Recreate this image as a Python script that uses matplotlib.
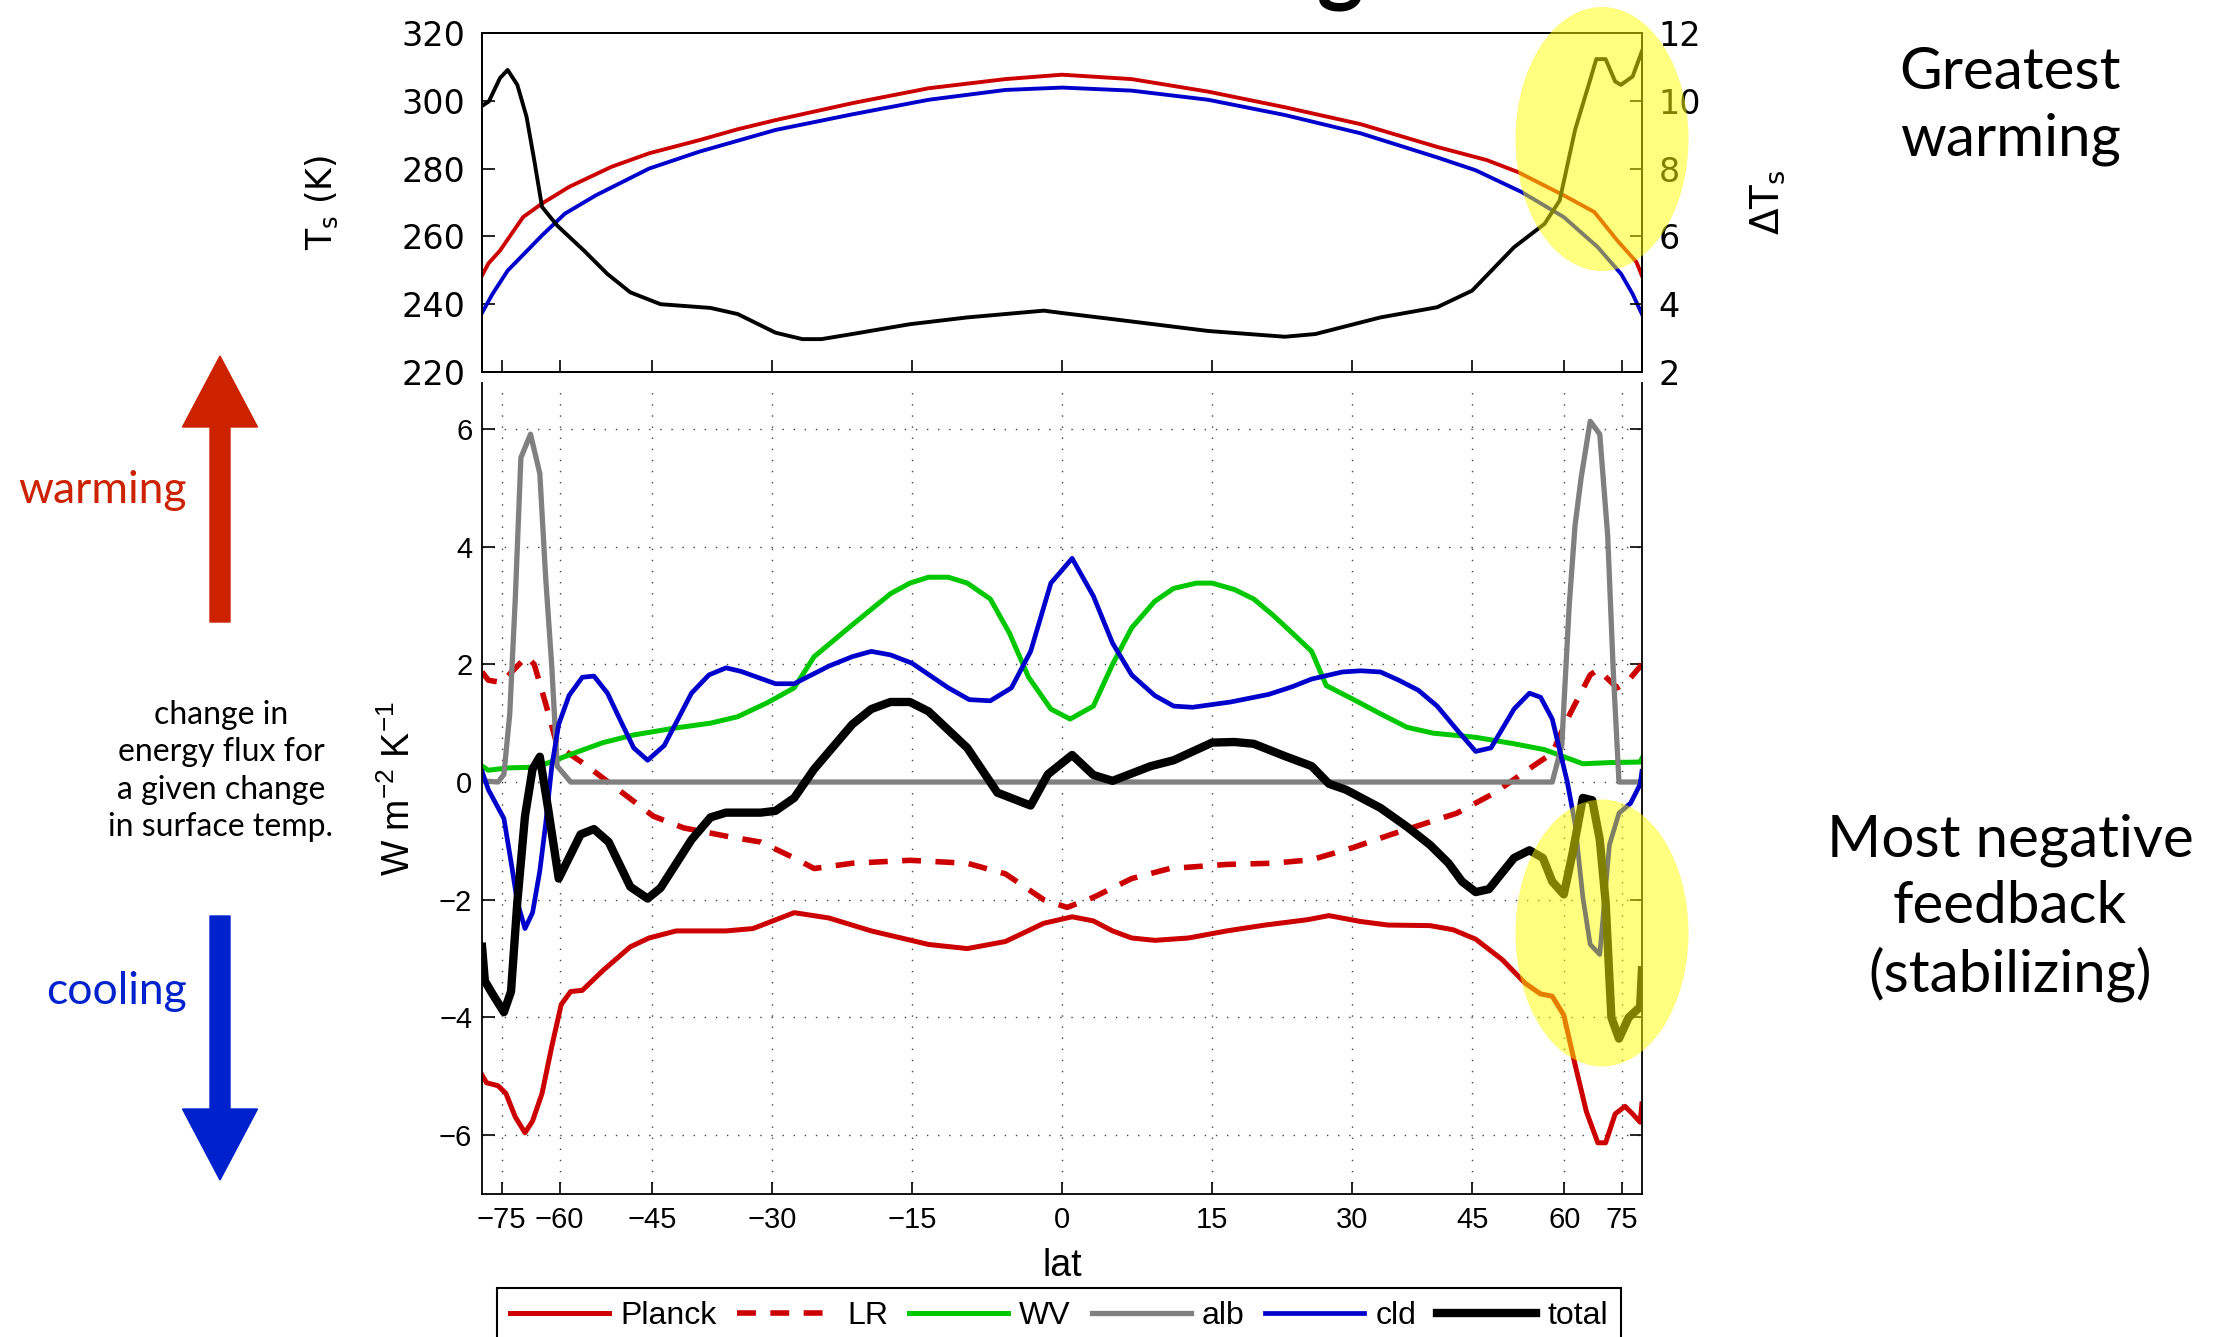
import numpy as np
import matplotlib
matplotlib.use("Agg")
import matplotlib.pyplot as plt
from matplotlib.patches import Ellipse, FancyArrow

# ─────────────────────────────────────────────
# DATA
# ─────────────────────────────────────────────
LAT_TICKS = [-75, -60, -45, -30, -15, 0, 15, 30, 45, 60, 75]

# top panel: surface temperature (left axis, K) and warming (right axis)
ts_red_lat = [-89, -81.5, -75.7, -68.3, -63.7, -58.2, -51.0, -45.4, -38.7, -34.0, -29.6,
              -21.2, -13.3, -5.6, 0, 6.9, 14.6, 22.6, 31.0, 40.3, 47.1, 51.8, 59.9,
              66.6, 73.2, 82, 89]
ts_red = [248.5, 252.0, 255.8, 265.7, 269.7, 274.6, 280.5, 284.5, 288.4, 291.6, 294.3,
          299.3, 303.7, 306.4, 307.7, 306.4, 302.7, 298.1, 293.1, 286.4, 282.5, 279.0, 272.1,
          267.2, 258.8, 252.5, 248.4]

ts_blue_lat = [-89, -79.1, -72.9, -63.7, -59.0, -53.5, -45.4, -38.7, -29.6, -21.2, -13.3,
               -5.6, 0, 6.9, 14.6, 22.6, 31.0, 40.3, 45.5, 52.4, 59.9, 67.5, 74.6, 79.7, 89]
ts_blue = [237.5, 243.0, 249.9, 260.3, 266.7, 272.1, 280.0, 285.0, 291.4, 296.0, 300.3,
           303.2, 303.9, 303.0, 300.3, 295.8, 290.4, 283.3, 279.5, 273.1, 265.7, 256.8, 248.9,
           243.0, 237.1]

dts_lat = [-89, -81.2, -75.7, -72.9, -69.9, -67.4, -65.5, -63.7, -60.5, -55.5, -51.6, -48.1,
           -43.8, -37.3, -34.0, -29.6, -26.6, -24.5, -21.2, -15.2, -9.4, -5.6, -1.8, 0, 5.0,
           14.6, 22.6, 25.9, 33.3, 40.3, 45.0, 51.2, 56.3, 59.1, 62.2, 65.6, 67.1, 69.6, 72.5,
           74.5, 79.7, 89]
dts = [9.85, 9.98, 10.67, 10.91, 10.47, 9.53, 8.25, 6.87, 6.32, 5.58, 4.89, 4.35,
       4.00, 3.89, 3.71, 3.16, 2.97, 2.97, 3.12, 3.41, 3.61, 3.71, 3.81, 3.74, 3.56,
       3.21, 3.04, 3.12, 3.61, 3.91, 4.40, 5.68, 6.37, 7.06, 9.14, 10.62, 11.23, 11.23, 10.57,
       10.47, 10.72, 11.46]

# bottom panel: feedbacks (W m-2 K-1)
planck_lat = [-89, -82.8, -76.5, -73.5, -70.5, -67.8, -65.9, -63.7, -61.6, -59.7, -57.9, -55.8,
              -52.3, -48.1, -45.4, -41.7, -35.4, -32.2, -27.5, -23.7, -19.2, -13.3, -9.4, -5.6,
              -1.8, 1.0, 3.1, 5.0, 6.9, 9.2, 12.6, 16.5, 20.5, 25.0, 27.4, 31.0, 34.2, 39.4,
              42.4, 45.5, 49.4, 53.0, 55.6, 57.7, 59.9, 62.2, 64.7, 67.5, 69.6, 72.5, 76.1,
              79.7, 85.4, 89]
planck = [-4.98, -5.11, -5.16, -5.29, -5.69, -5.96, -5.76, -5.29, -4.49, -3.78, -3.56, -3.54,
          -3.20, -2.80, -2.65, -2.53, -2.53, -2.49, -2.22, -2.31, -2.53, -2.76, -2.83, -2.71,
          -2.40, -2.29, -2.36, -2.53, -2.65, -2.69, -2.65, -2.53, -2.43, -2.34, -2.27, -2.37,
          -2.43, -2.44, -2.51, -2.67, -3.02, -3.42, -3.60, -3.64, -3.96, -4.80, -5.60, -6.13,
          -6.13, -5.64, -5.51, -5.64, -5.78, -5.47]

lr_lat = [-89, -81.5, -75.0, -71.6, -67.4, -65.5, -62.9, -60.5, -55.5, -49.3, -44.8, -40.7,
          -35.0, -31.3, -27.5, -25.3, -21.2, -15.2, -9.4, -5.6, -1.8, 0.5, 3.1, 6.9, 10.7,
          16.5, 21.3, 25.5, 30.2, 34.6, 42.9, 48.3, 54.3, 57.7, 60.6, 65.6, 67.5, 73.2, 77.7, 89]
lr = [1.87, 1.73, 1.69, 1.87, 2.13, 2.00, 1.33, 0.62, 0.31, -0.18, -0.58, -0.78,
      -0.93, -1.02, -1.29, -1.47, -1.38, -1.33, -1.38, -1.56, -2.00, -2.13, -1.96, -1.64, -1.47,
      -1.40, -1.38, -1.32, -1.11, -0.89, -0.53, -0.18, 0.27, 0.49, 1.07, 1.82, 1.91, 1.60, 1.73,
      2.00]

wv_lat = [-89, -81.5, -72.9, -66.4, -62.9, -58.2, -52.3, -47.6, -41.7, -37.3, -34.0, -30.5,
          -27.5, -25.3, -21.2, -17.2, -15.2, -13.3, -11.3, -9.4, -7.1, -5.2, -3.3, -1.1, 0.8,
          3.1, 5.0, 6.9, 9.2, 11.1, 13.4, 15.0, 17.3, 19.3, 21.3, 23.4, 25.5, 27.1, 30.2, 33.3,
          36.5, 39.8, 45.5, 51.2, 56.3, 59.9, 63.9, 70.7, 85.4, 89]
wv = [0.27, 0.20, 0.24, 0.25, 0.31, 0.46, 0.67, 0.80, 0.92, 1.00, 1.11, 1.35,
      1.60, 2.13, 2.67, 3.20, 3.38, 3.48, 3.48, 3.38, 3.11, 2.53, 1.78, 1.24, 1.07,
      1.29, 2.00, 2.62, 3.07, 3.29, 3.38, 3.38, 3.27, 3.11, 2.84, 2.53, 2.22, 1.64, 1.40, 1.16,
      0.93, 0.83, 0.76, 0.65, 0.55, 0.43, 0.31, 0.33, 0.34, 0.40]

alb_lat = [-89, -76.5, -74.2, -72.2, -70.5, -68.9, -66.4, -64.2, -62.9, -61.6, -60.5, -57.9,
           57.7, 59.5, 61.0, 62.2, 63.5, 65.6, 68.0, 70.2, 71.9, 73.8, 89]
alb = [0.02, 0, 0.13, 1.16, 3.11, 5.51, 5.91, 5.24, 3.47, 1.96, 0.27, 0,
       0, 0.62, 3.02, 4.36, 5.16, 6.13, 5.91, 4.18, 1.87, 0, 0]

cld_lat = [-89, -81.5, -74.2, -71.6, -69.9, -67.8, -65.9, -64.2, -62.9, -61.6, -60.2, -58.2,
           -55.8, -53.8, -51.6, -49.3, -47.6, -45.6, -43.3, -39.7, -37.5, -35.4, -33.6, -31.3,
           -29.6, -27.5, -23.7, -21.2, -19.2, -17.2, -15.0, -11.3, -9.2, -7.1, -5.0, -3.1, -1.1,
           1.0, 3.1, 5.0, 6.9, 9.2, 11.1, 13.0, 16.9, 20.9, 23.4, 25.5, 28.9, 31.0, 33.3, 35.5,
           37.9, 40.3, 42.9, 45.5, 47.7, 51.2, 53.7, 55.6, 57.7, 60.6, 62.2, 63.9, 65.6, 68.0,
           70.7, 73.8, 78.6, 85.4, 89]
cld = [0.18, -0.13, -0.62, -1.42, -2.04, -2.49, -2.22, -1.51, -0.71, 0.27, 0.98, 1.47,
       1.78, 1.80, 1.51, 0.98, 0.58, 0.37, 0.62, 1.51, 1.82, 1.94, 1.88, 1.76,
       1.67, 1.67, 1.97, 2.13, 2.22, 2.16, 2.02, 1.60, 1.40, 1.38, 1.60, 2.22, 3.38,
       3.80, 3.16, 2.36, 1.82, 1.47, 1.29, 1.27, 1.36, 1.49, 1.62, 1.75, 1.87, 1.89, 1.87, 1.73,
       1.56, 1.29, 0.89, 0.52, 0.58, 1.24, 1.51, 1.44, 1.07, 0.0, -0.71, -1.96, -2.76, -2.93,
       -1.07, -0.53, -0.36, -0.04, 0.18]

total_lat = [-89, -84.3, -79.1, -74.2, -71.8, -69.9, -67.8, -65.9, -64.2, -62.4, -60.2, -56.1,
             -53.8, -51.4, -48.1, -45.6, -43.8, -39.7, -37.3, -35.4, -31.3, -29.6, -27.5, -25.3,
             -21.2, -19.2, -17.2, -15.2, -13.3, -9.4, -6.4, -3.1, -1.4, 1.0, 3.1, 5.0, 8.8, 11.1,
             15.0, 17.3, 19.3, 22.6, 25.5, 27.4, 29.3, 33.3, 36.5, 39.4, 41.8, 43.6, 45.5, 47.4,
             51.2, 53.7, 56.0, 57.7, 59.9, 61.8, 63.9, 66.1, 68.0, 69.6, 71.3, 73.8, 77.7, 85.4, 89]
total = [-2.80, -3.38, -3.60, -3.91, -3.56, -2.04, -0.58, 0.22, 0.43, -0.44, -1.64, -0.89,
         -0.80, -1.02, -1.78, -1.98, -1.80, -0.98, -0.60, -0.52, -0.52, -0.49, -0.27, 0.22,
         0.98, 1.24, 1.36, 1.36, 1.20, 0.58, -0.18, -0.40, 0.13, 0.46, 0.12, 0.02, 0.27, 0.37,
         0.67, 0.68, 0.65, 0.44, 0.27, -0.03, -0.13, -0.44, -0.76, -1.07, -1.38, -1.69, -1.87,
         -1.82, -1.29, -1.16, -1.29, -1.69, -1.91, -1.16, -0.27, -0.31, -0.98, -2.04, -4.00,
         -4.36, -4.00, -3.82, -3.20]

# ─────────────────────────────────────────────
# STYLE
# ─────────────────────────────────────────────
plt.rcParams['font.family'] = ['Liberation Sans', 'DejaVu Sans']
plt.rcParams['mathtext.default'] = 'regular'

W, H = 2216, 1337
RED, BLUE, GREEN, GREY = '#cc0000', '#0000cc', '#00c800', '#808080'
NOTE = ['Lato', 'DejaVu Sans']


def fwd(lat):
    return np.sin(np.deg2rad(lat))


def inv(s):
    return np.rad2deg(np.arcsin(np.clip(s, -1, 1)))


def lat_label(t):
    return str(t).replace('-', '\u2212')


def px(x0, y0, x1, y1):
    """pixel box (top-left / bottom-right) -> figure fraction rect"""
    return [x0 / W, 1 - y1 / H, (x1 - x0) / W, (y1 - y0) / H]


fig = plt.figure(figsize=(W / 100, H / 100), dpi=100)

# ─────────────────────────────────────────────
# TOP PANEL
# ─────────────────────────────────────────────
ax_t = fig.add_axes(px(482, 33, 1642, 372))
ax_t.set_xscale('function', functions=(fwd, inv))
ax_t.plot(ts_red_lat, ts_red, color=RED, lw=2.8)
ax_t.plot(ts_blue_lat, ts_blue, color=BLUE, lw=2.8)
ax_t.set_xlim(-90, 90)
ax_t.set_ylim(220, 320)
ax_t.set_yticks(range(220, 321, 20))
ax_t.set_xticks(LAT_TICKS)
ax_t.set_xticklabels([])
ax_t.tick_params(direction='in', length=9, width=1.2, labelsize=24, pad=12)
ax_t.set_ylabel('T$_s$ (K)', fontsize=25, family='DejaVu Sans')
ax_t.yaxis.set_label_coords(-0.122, 0.5)

ax_r = ax_t.twinx()
ax_r.plot(dts_lat, dts, color='k', lw=2.8)
ax_r.set_ylim(2, 12)
ax_r.set_yticks(range(2, 13, 2))
ax_r.tick_params(direction='in', length=9, width=1.2, labelsize=24, pad=12)
ax_r.set_ylabel('\u0394T$_s$', fontsize=28, family='DejaVu Sans')
ax_r.yaxis.set_label_coords(1.092, 0.5)

for a in (ax_t, ax_r):
    for lab in a.get_yticklabels():
        lab.set_fontfamily('DejaVu Sans')
    for sp in a.spines.values():
        sp.set_linewidth(1.3)

# ─────────────────────────────────────────────
# BOTTOM PANEL
# ─────────────────────────────────────────────
ax_b = fig.add_axes(px(482, 383, 1642, 1194))
ax_b.set_xscale('function', functions=(fwd, inv))
ax_b.plot(planck_lat, planck, color=RED, lw=3.6, label='Planck')
ax_b.plot(lr_lat, lr, color=RED, lw=4.0, dashes=(3.4, 2.6), label='LR')
ax_b.plot(wv_lat, wv, color=GREEN, lw=3.6, label='WV')
ax_b.plot(alb_lat, alb, color=GREY, lw=3.8, label='alb')
ax_b.plot(cld_lat, cld, color=BLUE, lw=3.4, label='cld')
ax_b.plot(total_lat, total, color='k', lw=6.0, label='total')

ax_b.set_xlim(-90, 90)
ax_b.set_ylim(-7, 6.78)
ax_b.set_yticks(range(-6, 7, 2))
ax_b.set_xticks(LAT_TICKS)
ax_b.set_xticklabels([lat_label(t) for t in LAT_TICKS])
ax_b.tick_params(direction='in', length=9, width=1.2, labelsize=21, pad=9)
ax_b.tick_params(axis='y', right=True, pad=7)
ax_b.grid(True, linestyle=(0, (1, 7)), color='0.25', lw=1.0)
ax_b.spines['top'].set_visible(False)
for sp in ax_b.spines.values():
    sp.set_linewidth(1.3)
ax_b.set_xlabel('lat', fontsize=27, labelpad=10)
ax_b.set_ylabel('W m$^{-2}$ K$^{-1}$', fontsize=27)
ax_b.yaxis.set_label_coords(-0.055, 0.5)

handles, labels = ax_b.get_legend_handles_labels()
leg = fig.legend(handles, labels, loc='upper center',
                 bbox_to_anchor=(1059 / W, 1 - 1288 / H), ncol=6,
                 frameon=True, fancybox=False, edgecolor='k', framealpha=1,
                 fontsize=23, handlelength=3.1, handletextpad=0.35,
                 columnspacing=0.65, borderpad=0.4, borderaxespad=0)
leg.get_frame().set_linewidth(1.5)

# ─────────────────────────────────────────────
# ANNOTATIONS
# ─────────────────────────────────────────────
for cy, h in [(139, 264), (933, 267)]:
    fig.add_artist(Ellipse((1602 / W, 1 - cy / H), 173 / W, h / H,
                           transform=fig.transFigure, facecolor=(1, 1, 0),
                           edgecolor='none', alpha=0.5, zorder=10))

fig.add_artist(FancyArrow(2.20, 7.15, 0, 2.66, width=0.20, head_width=0.75,
                          head_length=0.71, length_includes_head=True,
                          color='#cc2200', transform=fig.dpi_scale_trans))
fig.add_artist(FancyArrow(2.20, 4.21, 0, -2.64, width=0.20, head_width=0.75,
                          head_length=0.71, length_includes_head=True,
                          color='#0022cc', transform=fig.dpi_scale_trans))

fig.text(187 / W, 1 - 490 / H, 'warming', color='#cc2200', fontsize=32,
         ha='right', va='center', family=NOTE)
fig.text(187 / W, 1 - 992 / H, 'cooling', color='#0022cc', fontsize=32,
         ha='right', va='center', family=NOTE)
fig.text(221 / W, 1 - 771 / H,
         'change in\nenergy flux for\na given change\nin surface temp.',
         fontsize=23, ha='center', va='center', multialignment='center',
         linespacing=1.3, family=NOTE)
fig.text(2010 / W, 1 - 106 / H, 'Greatest\nwarming', fontsize=42,
         ha='center', va='center', linespacing=1.32, family=NOTE)
fig.text(2010 / W, 1 - 908 / H, 'Most negative\nfeedback\n(stabilizing)', fontsize=42,
         ha='center', va='center', linespacing=1.3, family=NOTE)
fig.text(1340 / W, 1.0045, 'g', fontsize=64, fontweight='bold',
         ha='center', va='baseline', family=NOTE)

fig.savefig('out.png', dpi=100)
